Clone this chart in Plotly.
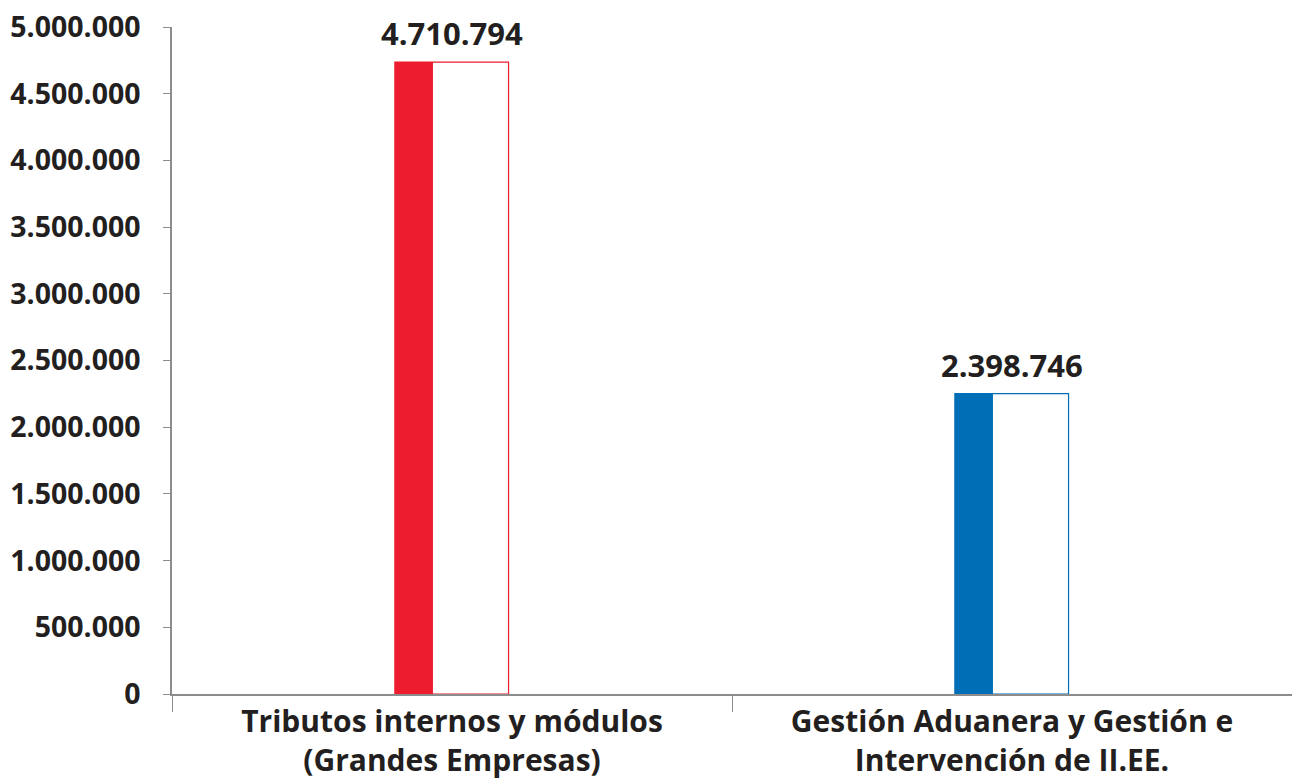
import plotly.graph_objects as go

categories = ["Tributos internos y módulos<br>(Grandes Empresas)",
              "Gestión Aduanera y Gestión e<br>Intervención de II.EE."]
values = [4737000, 2252000]
labels = ["4.710.794", "2.398.746"]
colors = ["#ED1C2E", "#006DB7"]

y_ticks = list(range(0, 5000001, 500000))
y_tick_text = ["0"] + [f"{v:,}".replace(",", ".") for v in y_ticks[1:]]

font = "Open Sans"
dark = "#231F20"

fig = go.Figure()
# wide hollow bar, then the narrow filled part over its left third
fig.add_trace(go.Bar(x=categories, y=values, offset=-0.102, width=0.203,
                     marker=dict(color="white", line=dict(color=colors, width=1.2)),
                     hoverinfo="skip"))
fig.add_trace(go.Bar(x=categories, y=values, offset=-0.102, width=0.068,
                     marker=dict(color=colors, line=dict(width=0))))

for cat, v, lab in zip(categories, values, labels):
    fig.add_annotation(x=cat, y=v, text=f"<b>{lab}</b>", showarrow=False,
                       yanchor="bottom", yshift=6,
                       font=dict(family=font, size=31, color=dark))

fig.update_layout(
    width=1292, height=780, barmode="overlay", showlegend=False,
    plot_bgcolor="white", paper_bgcolor="white",
    margin=dict(l=172, r=0, t=27, b=86),
    font=dict(family=font, color=dark),
)
fig.update_yaxes(range=[0, 5000000], tickvals=y_ticks, ticktext=[f"<b>{t}</b>" for t in y_tick_text],
                 showgrid=False, zeroline=False, showline=True, linecolor="#8C8C8C", linewidth=1.5,
                 ticks="outside", ticklen=7, tickcolor="#8C8C8C", ticklabelstandoff=17,
                 automargin=False, tickfont=dict(family=font, size=28.5, color=dark))
fig.update_xaxes(tickvals=categories, ticktext=[f"<b>{c}</b>" for c in categories],
                 showgrid=False, showline=True, linecolor="#8C8C8C", linewidth=1.5,
                 ticks="outside", tickson="boundaries", ticklen=16, tickcolor="#8C8C8C",
                 automargin=False, tickfont=dict(family=font, size=30, color=dark))

# the page's default body margin would push the figure 8px right and down
fig.write_html("out.html", config={"displayModeBar": False},
               post_script="document.body.style.margin='0';document.body.style.overflow='hidden';")
